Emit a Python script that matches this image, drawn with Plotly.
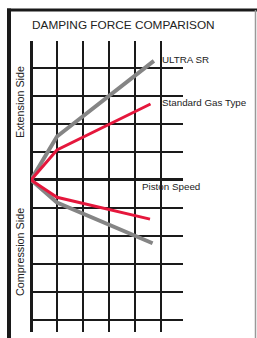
import plotly.graph_objects as go

# Data (grid units: x = piston speed, y = damping force)
ultra_ext_x = [0, 1, 4.73]
ultra_ext_y = [0, 1.55, 4.25]
std_ext_x = [0, 1, 4.6]
std_ext_y = [0, 1.07, 2.71]
std_comp_x = [0, 1, 4.58]
std_comp_y = [0, -0.62, -1.40]
ultra_comp_x = [0, 1, 4.68]
ultra_comp_y = [0, -0.81, -2.26]

GRAY = "#858585"
RED = "#e5173c"
FONT = "Liberation Sans, Arial, sans-serif"

fig = go.Figure()
for xs, ys, c, w in [
    (ultra_ext_x, ultra_ext_y, GRAY, 4),
    (ultra_comp_x, ultra_comp_y, GRAY, 4),
    (std_ext_x, std_ext_y, RED, 3),
    (std_comp_x, std_comp_y, RED, 3),
]:
    fig.add_trace(go.Scatter(x=xs, y=ys, mode="lines",
                             line=dict(color=c, width=w), hoverinfo="skip",
                             showlegend=False, cliponaxis=False))

W, H = 257, 338
fig.update_layout(
    width=W, height=H,
    margin=dict(l=31, r=74, t=41, b=6),
    paper_bgcolor="white", plot_bgcolor="white",
    showlegend=False,
    xaxis=dict(range=[0, 5.85], dtick=1, tick0=0, showgrid=True,
               gridcolor="#1a1a1a", gridwidth=2, zeroline=True,
               zerolinecolor="#1a1a1a", zerolinewidth=3,
               showticklabels=False, ticks="", showline=False, fixedrange=True),
    yaxis=dict(range=[-5.43, 4.96], dtick=1, tick0=0, showgrid=True,
               gridcolor="#1a1a1a", gridwidth=2, zeroline=True,
               zerolinecolor="#1a1a1a", zerolinewidth=3,
               showticklabels=False, ticks="", showline=False, fixedrange=True),
    font=dict(family=FONT, color="#222"),
)


def px_x(p):
    return (p - 31) / 152


def px_y(p):
    return (332 - p) / 291


# frame
fig.add_shape(type="line", xref="paper", yref="paper",
              x0=px_x(7), x1=px_x(257), y0=px_y(10), y1=px_y(10),
              line=dict(color="#1a1a1a", width=3))
fig.add_shape(type="line", xref="paper", yref="paper",
              x0=px_x(9), x1=px_x(9), y0=px_y(8.5), y1=px_y(338),
              line=dict(color="#1a1a1a", width=4))
fig.add_shape(type="line", xref="paper", yref="paper",
              x0=px_x(255.5), x1=px_x(255.5), y0=px_y(10), y1=px_y(338),
              line=dict(color="#999", width=1.5))

fig.add_annotation(text="DAMPING FORCE COMPARISON", xref="paper", yref="paper",
                   x=px_x(123), y=px_y(25), showarrow=False,
                   xanchor="center", yanchor="middle",
                   font=dict(size=11.8, color="#222"))
fig.add_annotation(text="ULTRA SR", xref="x", yref="y", x=4.96, y=4.29,
                   showarrow=False, xanchor="left", yanchor="middle",
                   font=dict(size=9.8, color="#222"))
fig.add_annotation(text="Standard Gas Type", xref="x", yref="y", x=4.96, y=2.75,
                   showarrow=False, xanchor="left", yanchor="middle",
                   font=dict(size=9.8, color="#222"))
fig.add_annotation(text="Piston Speed", xref="x", yref="y", x=4.18, y=-0.25,
                   showarrow=False, xanchor="left", yanchor="middle",
                   font=dict(size=9.8, color="#222"))
fig.add_annotation(text="Extension Side", xref="paper", yref="paper",
                   x=px_x(20), y=px_y(102), showarrow=False, textangle=-90,
                   xanchor="center", yanchor="middle",
                   font=dict(size=10.8, color="#222"))
fig.add_annotation(text="Compression Side", xref="paper", yref="paper",
                   x=px_x(20), y=px_y(252), showarrow=False, textangle=-90,
                   xanchor="center", yanchor="middle",
                   font=dict(size=10.8, color="#222"))

fig.write_html("out.html", config={"displayModeBar": False},
               post_script="document.body.style.margin='0';document.body.style.padding='0';")
